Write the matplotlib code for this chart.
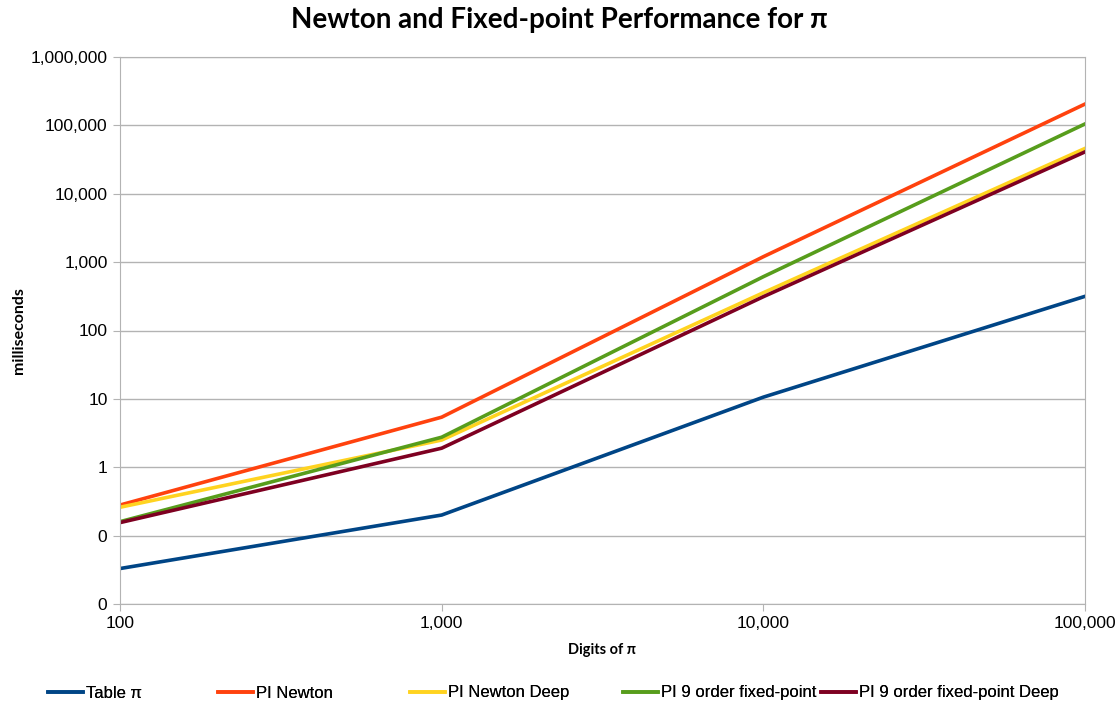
import matplotlib.pyplot as plt
from matplotlib.ticker import FuncFormatter, FixedLocator, NullLocator

# digits of pi computed
digits = [100, 1000, 10000, 100000]

# run times in milliseconds
table_pi = [0.033, 0.2, 10.6, 316]
pi_newton = [0.28, 5.4, 1200, 205000]
pi_newton_deep = [0.26, 2.5, 357, 46000]
pi_9_fixed = [0.16, 2.75, 612, 105000]
pi_9_fixed_deep = [0.155, 1.9, 312, 41000]

names = ['Table π', 'PI Newton', 'PI Newton Deep',
         'PI 9 order fixed-point', 'PI 9 order fixed-point Deep']
values = [table_pi, pi_newton, pi_newton_deep, pi_9_fixed, pi_9_fixed_deep]
colors = ['#004586', '#ff420e', '#ffd320', '#579d1c', '#7e0021']

W, H = 1119, 702
fig = plt.figure(figsize=(W / 100, H / 100), dpi=100)
ax = fig.add_axes([120 / W, 1 - 604 / H, 965 / W, 547 / H])

lines = []
for name, vals, col in zip(names, values, colors):
    ln, = ax.plot(digits, vals, color=col, linewidth=2.6, label=name)
    lines.append(ln)

ax.set_xscale('log')
ax.set_yscale('log')
ax.set_xlim(100, 100000)
ax.set_ylim(0.01, 1000000)

fmt = FuncFormatter(lambda v, p: '{:,.0f}'.format(v))
ax.xaxis.set_major_locator(FixedLocator(digits))
ax.yaxis.set_major_locator(FixedLocator([10.0 ** k for k in range(-2, 7)]))
ax.xaxis.set_minor_locator(NullLocator())
ax.yaxis.set_minor_locator(NullLocator())
ax.xaxis.set_major_formatter(fmt)
ax.yaxis.set_major_formatter(fmt)

ax.grid(axis='y', color='#b3b3b3', linewidth=1)
ax.set_axisbelow(True)
for s in ax.spines.values():
    s.set_color('#b3b3b3')
ax.tick_params(colors='#b3b3b3', labelcolor='black', labelsize=12.5,
               length=5, pad=4)
for lbl in ax.get_xticklabels() + ax.get_yticklabels():
    lbl.set_family('Liberation Sans')

ax.set_xlabel('Digits of π', fontsize=10.5, fontweight='bold',
              family='Lato', labelpad=8)
ax.set_ylabel('milliseconds', fontsize=11.5, fontweight='bold',
              family='Lato', labelpad=3)
fig.suptitle('Newton and Fixed-point Performance for π', fontsize=20,
             fontweight='bold', family='Lato', y=0.99)

# legend entries sit at uneven positions along the bottom
leg_x = [48, 218, 410, 623, 821]
for ln, x in zip(lines, leg_x):
    lg = fig.legend(handles=[ln], loc='center left',
                    bbox_to_anchor=(x / W, 1 - 693 / H), frameon=False,
                    borderpad=0, borderaxespad=0, handlelength=2.1,
                    handletextpad=0.2,
                    prop={'family': 'Liberation Sans', 'size': 12})
    fig.add_artist(lg)

fig.savefig('out.png', dpi=100)
